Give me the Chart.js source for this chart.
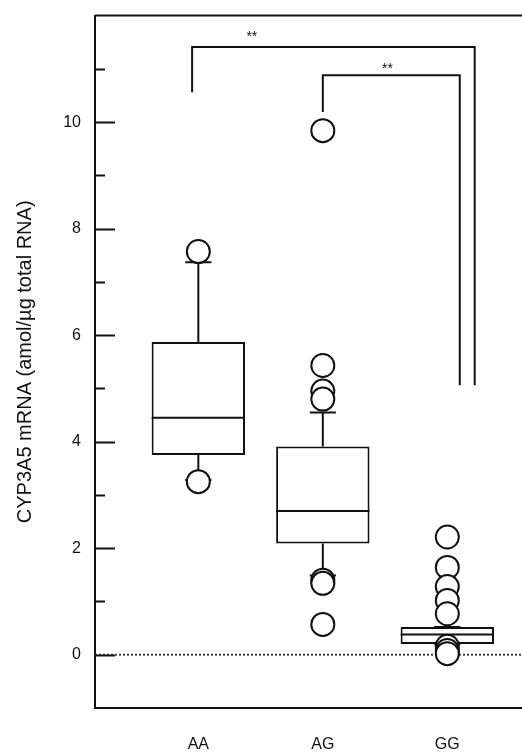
<!DOCTYPE html>
<html>
<head>
<meta charset="utf-8">
<script src="https://cdn.jsdelivr.net/npm/chart.js@4.4.1/dist/chart.umd.min.js"></script>
<style>
  html, body { margin: 0; padding: 0; background: #fff; overflow: hidden; }
  #wrap { width: 522px; height: 752px; }
  canvas { display: block; }
</style>
</head>
<body>
<div id="wrap"><canvas id="boxChart" width="522" height="752"></canvas></div>
<script>
// CYP3A5 mRNA por genótipo
const genotypes = ['AA', 'AG', 'GG'];
const q1 = [3.75, 2.09, 0.20];
const medians = [4.45, 2.70, 0.38];
const q3 = [5.87, 3.91, 0.52];
const whiskerLow = [3.28, 1.49, 0.20];
const whiskerHigh = [7.37, 4.55, 0.52];
const outliers = [
    [7.57, 3.25],
    [9.84, 5.43, 4.95, 4.80, 1.40, 1.34, 0.57],
    [2.21, 1.64, 1.28, 1.02, 0.77, 0.16, 0.08, 0.02]
];
const yLabelValues = [0, 2, 4, 6, 8, 10];
const yTickValues = [0, 1, 2, 3, 4, 5, 6, 7, 8, 9, 10, 11];

// significance brackets (values on the y axis)
const sigPairs = [
    { from: 'AA', to: 'GG', top: 11.41, leftEnd: 10.56, rightEnd: 5.06, label: '**' },
    { from: 'AG', to: 'GG', top: 10.88, leftEnd: 10.19, rightEnd: 5.06, label: '**' }
];

// layout / style
const xMin = 0.17, xMax = 3.6;
const boxHalf = 0.375;
const capHalf = 0.105;
const bracketStyle = [
    { leftShift: -0.05, rightShift: 0.22, labelX: 1.43, lift: 10 },
    { leftShift: 0.0, rightShift: 0.10, labelX: 2.52, lift: 6 }
];
const ink = '#111';
const fontFamily = '"Liberation Sans", Arial, sans-serif';

const pos = (g) => genotypes.indexOf(g) + 1;
const gap = (x) => ({ x: x, y: null });

const boxData = genotypes.map((g, i) => ({ x: i + 1, y: [q1[i], q3[i]] }));

const medianData = [];
genotypes.forEach((g, i) => {
    medianData.push({ x: i + 1 - boxHalf, y: medians[i] }, { x: i + 1 + boxHalf, y: medians[i] }, gap(i + 1));
});

const whiskerData = [];
genotypes.forEach((g, i) => {
    const c = i + 1;
    whiskerData.push({ x: c, y: q3[i] }, { x: c, y: whiskerHigh[i] }, gap(c));
    whiskerData.push({ x: c - capHalf, y: whiskerHigh[i] }, { x: c + capHalf, y: whiskerHigh[i] }, gap(c));
    whiskerData.push({ x: c, y: q1[i] }, { x: c, y: whiskerLow[i] }, gap(c));
    whiskerData.push({ x: c - capHalf, y: whiskerLow[i] }, { x: c + capHalf, y: whiskerLow[i] }, gap(c));
});

const outlierData = [];
outliers.forEach((vals, i) => vals.forEach(v => outlierData.push({ x: i + 1, y: v })));

const bracketData = [];
sigPairs.forEach((p, i) => {
    const l = pos(p.from) + bracketStyle[i].leftShift;
    const r = pos(p.to) + bracketStyle[i].rightShift;
    bracketData.push({ x: l, y: p.leftEnd }, { x: l, y: p.top }, { x: r, y: p.top }, { x: r, y: p.rightEnd }, gap(r));
});

const frameAndTicks = {
    id: 'frameAndTicks',
    afterDraw(chart) {
        const { ctx, chartArea, scales } = chart;
        const x = scales.x, y = scales.y;
        ctx.save();
        ctx.strokeStyle = ink;
        ctx.lineWidth = 2;
        ctx.beginPath();
        ctx.moveTo(chartArea.left, chartArea.top);
        ctx.lineTo(chartArea.right, chartArea.top);
        ctx.stroke();

        // inward ticks
        yTickValues.forEach(v => {
            const py = Math.round(y.getPixelForValue(v)) + 0.5;
            const len = v % 2 === 0 ? 20 : 10;
            ctx.beginPath();
            ctx.moveTo(chartArea.left, py);
            ctx.lineTo(chartArea.left + len, py);
            ctx.stroke();
        });

        ctx.fillStyle = ink;
        ctx.font = '14px ' + fontFamily;
        ctx.textAlign = 'center';
        ctx.textBaseline = 'middle';
        sigPairs.forEach((p, i) => {
            ctx.fillText(p.label, x.getPixelForValue(bracketStyle[i].labelX), y.getPixelForValue(p.top) - bracketStyle[i].lift);
        });
        ctx.restore();
    }
};

const ctx = document.getElementById('boxChart').getContext('2d');
new Chart(ctx, {
    type: 'bar',
    data: {
        datasets: [
            {
                type: 'line',
                label: 'outliers',
                data: outlierData,
                showLine: false,
                pointRadius: 11.5,
                pointBorderWidth: 2,
                pointBackgroundColor: '#fff',
                pointBorderColor: ink,
                order: 0
            },
            {
                type: 'line',
                label: 'median',
                data: medianData,
                borderColor: ink,
                borderWidth: 2,
                pointRadius: 0,
                spanGaps: false,
                order: 1
            },
            {
                type: 'bar',
                label: 'IQR',
                data: boxData,
                backgroundColor: '#fff',
                borderColor: ink,
                borderWidth: 2,
                borderSkipped: false,
                categoryPercentage: 1,
                barPercentage: boxHalf * 2,
                order: 2
            },
            {
                type: 'line',
                label: 'whiskers',
                data: whiskerData,
                borderColor: ink,
                borderWidth: 2,
                pointRadius: 0,
                spanGaps: false,
                order: 3
            },
            {
                type: 'line',
                label: 'brackets',
                data: bracketData,
                borderColor: ink,
                borderWidth: 2,
                pointRadius: 0,
                spanGaps: false,
                order: 4
            },
            {
                type: 'line',
                label: 'zero',
                data: [{ x: xMin, y: 0 }, { x: xMax, y: 0 }],
                borderColor: '#444',
                borderWidth: 2,
                borderDash: [2, 2],
                pointRadius: 0,
                order: 5
            }
        ]
    },
    options: {
        responsive: false,
        animation: false,
        events: [],
        layout: { autoPadding: false, padding: { top: 15, right: 0, bottom: 0, left: 0 } },
        plugins: {
            legend: { display: false },
            tooltip: { enabled: false }
        },
        scales: {
            x: {
                type: 'linear',
                min: xMin,
                max: xMax,
                offset: false,
                grid: { display: false },
                border: { display: true, color: ink, width: 2 },
                afterBuildTicks: (scale) => {
                    scale.ticks = genotypes.map((g, i) => ({ value: i + 1 }));
                },
                afterFit: (scale) => {
                    scale.height = 44;
                    scale.paddingLeft = 0;
                    scale.paddingRight = 0;
                },
                ticks: {
                    autoSkip: false,
                    maxRotation: 0,
                    padding: 19,
                    color: ink,
                    font: { family: fontFamily, size: 16 },
                    callback: (value) => genotypes[value - 1] || ''
                }
            },
            y: {
                type: 'linear',
                min: -1,
                max: 12,
                grid: { display: false },
                border: { display: true, color: ink, width: 2 },
                afterFit: (scale) => { scale.width = 95; },
                ticks: {
                    stepSize: 1,
                    autoSkip: false,
                    padding: 6,
                    color: ink,
                    font: { family: fontFamily, size: 16 },
                    callback: (value) => yLabelValues.includes(value) ? String(value) : ''
                },
                title: {
                    display: true,
                    text: 'CYP3A5 mRNA (amol/µg total RNA)',
                    color: ink,
                    padding: { top: 13, bottom: 0 },
                    font: { family: fontFamily, size: 20 }
                }
            }
        }
    },
    plugins: [frameAndTicks]
});
</script>
</body>
</html>
